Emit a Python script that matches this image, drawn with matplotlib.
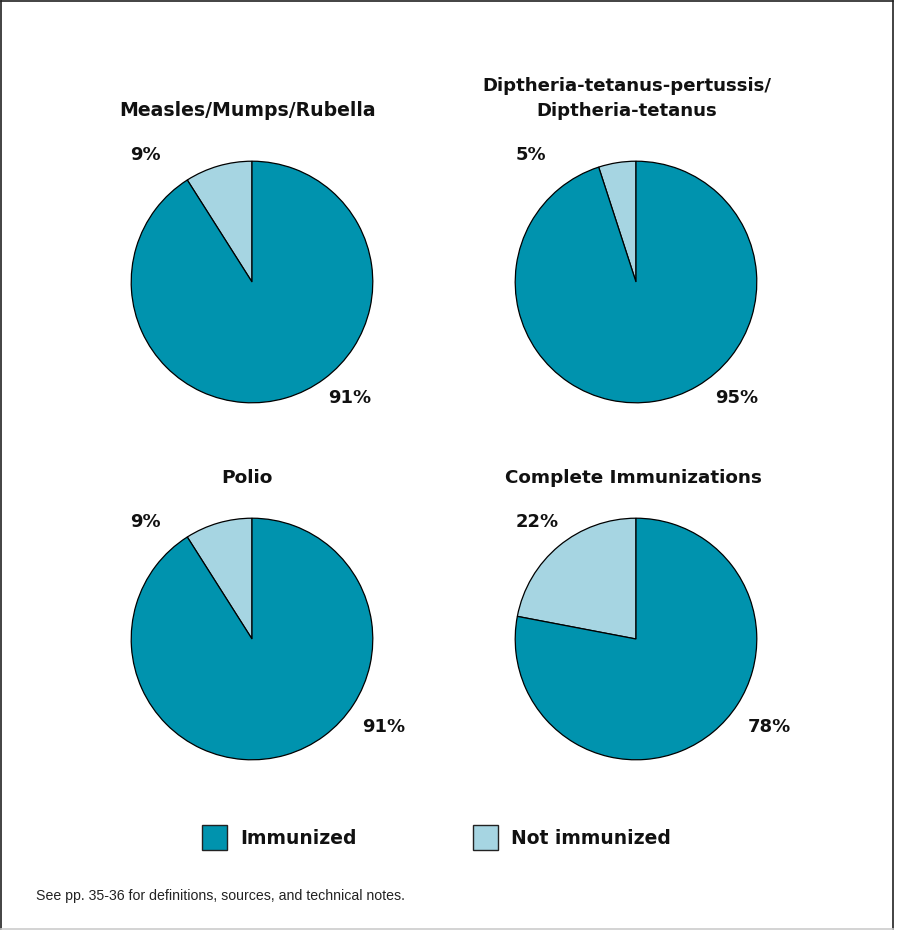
import matplotlib.pyplot as plt
from matplotlib.lines import Line2D
from matplotlib.patches import Rectangle

# data
titles = ["Measles/Mumps/Rubella", "Diptheria-tetanus-pertussis/\nDiptheria-tetanus",
          "Polio", "Complete Immunizations"]
not_immunized = [9, 5, 9, 22]
immunized = [91, 95, 91, 78]
legend_labels = ["Immunized", "Not immunized"]
footnote = "See pp. 35-36 for definitions, sources, and technical notes."

dark = "#0093ae"
light = "#a6d5e2"

W, H = 897, 931
fig = plt.figure(figsize=(W / 100, H / 100), dpi=100)

def fx(x):
    return x / W

def fy(y):
    return 1 - y / H

bold = dict(family="DejaVu Sans", fontweight="bold", color="#111111")

# pie layout: centre, radius, title y, label positions
centres = [(252, 282), (636, 282), (252, 639), (636, 639)]
radius = 122
title_x = [248, 627, 247, 633]
title_y = [111, 98.5, 478, 478]
title_size = [13.6, 13.1, 13.3, 13.2]
small_pos = [(145, 155), (531, 155), (145, 522), (537, 522)]
big_pos = [(350, 398), (737, 398), (384, 727), (769, 727)]

for i in range(4):
    cx, cy = centres[i]
    ax = fig.add_axes([fx(cx - radius), fy(cy + radius), 2 * radius / W, 2 * radius / H])
    ax.pie([not_immunized[i], immunized[i]], colors=[light, dark], startangle=90,
           counterclock=True, wedgeprops=dict(edgecolor="black", linewidth=0.9))
    ax.set_xlim(-1.01, 1.01)
    ax.set_ylim(-1.01, 1.01)
    ax.set_aspect("equal")
    ax.axis("off")

    fig.text(fx(title_x[i]), fy(title_y[i]), titles[i], ha="center", va="center",
             fontsize=title_size[i], linespacing=1.45, **bold)
    fig.text(fx(small_pos[i][0]), fy(small_pos[i][1]), f"{not_immunized[i]}%",
             ha="center", va="center", fontsize=13, **bold)
    fig.text(fx(big_pos[i][0]), fy(big_pos[i][1]), f"{immunized[i]}%",
             ha="center", va="center", fontsize=13, **bold)

# legend
for x0, col, lab in [(202, dark, legend_labels[0]), (473, light, legend_labels[1])]:
    fig.add_artist(Rectangle((fx(x0), fy(850)), 25 / W, 25 / H, transform=fig.transFigure,
                             facecolor=col, edgecolor="#222222", linewidth=1))
    fig.text(fx(x0 + 38), fy(839), lab, ha="left", va="center", fontsize=13.5, **bold)

fig.text(fx(36), fy(896), footnote, ha="left", va="center", fontsize=10.2,
         family=["Liberation Sans", "DejaVu Sans"], color="#222222")

# frame
fig.add_artist(Line2D([fx(1), fx(1)], [fy(1), fy(929)], color="#222222", lw=1.2))
fig.add_artist(Line2D([fx(1), fx(893)], [fy(1), fy(1)], color="#222222", lw=1.2))
fig.add_artist(Line2D([fx(893), fx(893)], [fy(1), fy(929)], color="#222222", lw=1.2))
fig.add_artist(Line2D([fx(1), fx(893)], [fy(929), fy(929)], color="#cccccc", lw=1.2))

fig.savefig("out.png", dpi=100)
